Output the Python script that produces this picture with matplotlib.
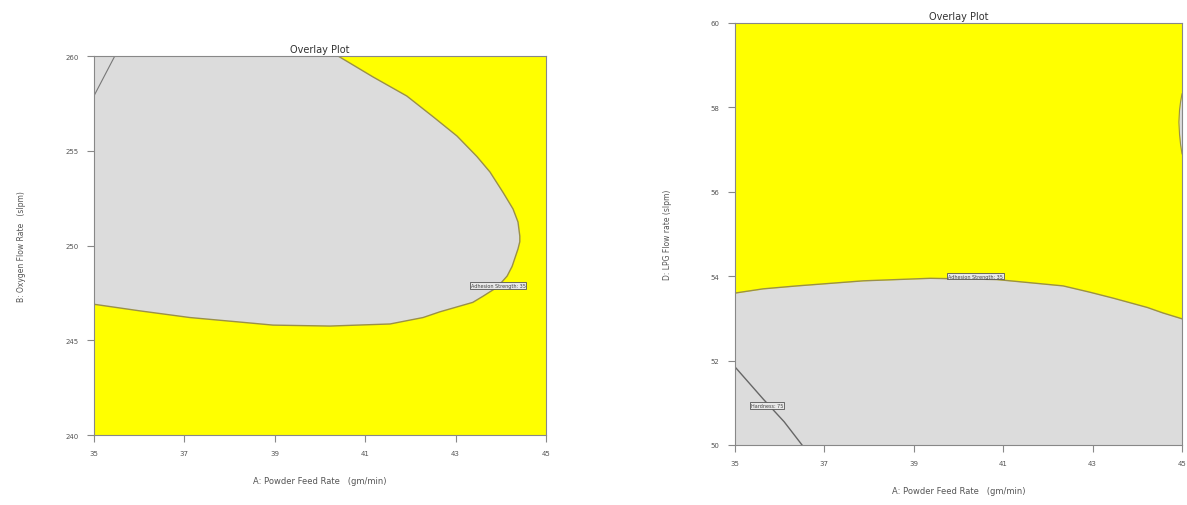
import numpy as np
import matplotlib
matplotlib.use('Agg')
import matplotlib.pyplot as plt

# left panel: A vs B, boundary of the grey region
left_x = [35.0, 36.02, 37.12, 38.23, 38.96, 40.22, 41.55, 42.28, 42.65, 43.38, 43.61,
          43.92, 44.14, 44.25, 44.38, 44.42, 44.42, 44.38, 44.27, 44.05, 43.76,
          43.47, 43.03, 42.5, 41.92, 41.17, 40.40]
left_y = [246.9, 246.55, 246.2, 245.96, 245.8, 245.75, 245.86, 246.2, 246.5, 247.0, 247.33,
          247.8, 248.39, 248.9, 249.82, 250.2, 250.5, 251.24, 251.93, 252.8, 253.88,
          254.7, 255.78, 256.8, 257.89, 258.9, 260.0]
left_corner_x = [35.0, 35.46]
left_corner_y = [257.9, 260.0]

# right panel: A vs D
right_x = [35.0, 35.63, 36.39, 37.87, 39.37, 40.86, 42.34, 42.94, 43.46, 44.22, 44.57, 45.0]
right_y = [53.6, 53.70, 53.77, 53.89, 53.95, 53.92, 53.77, 53.62, 53.48, 53.26, 53.13, 52.99]
bulge_y = [58.32, 58.15, 57.95, 57.65, 57.35, 57.1, 56.9]
bulge_x = [45.0, 44.97, 44.945, 44.93, 44.945, 44.97, 45.0]
hard_x = [35.0, 35.63, 36.1, 36.5]
hard_y = [51.85, 51.09, 50.55, 50.0]

x_ticks = [35, 37, 39, 41, 43, 45]
left_y_ticks = [240, 245, 250, 255, 260]
right_y_ticks = [50, 52, 54, 56, 58, 60]

YELLOW = '#ffff00'
GREY = '#dcdcdc'
EDGE = '#9a9048'
TXT = '#555555'

fig = plt.figure(figsize=(11.87, 5.06), dpi=100)
ax1 = fig.add_axes([0.0792, 0.1383, 0.3808, 0.749])
ax2 = fig.add_axes([0.6192, 0.1186, 0.3766, 0.834])


def style(ax, yticks, ylabel):
    ax.set_facecolor(YELLOW)
    ax.set_xlim(35, 45)
    ax.set_ylim(yticks[0], yticks[-1])
    ax.set_xticks(x_ticks)
    ax.set_yticks(yticks)
    ax.tick_params(direction='out', length=5, width=0.8, colors='#888888',
                   labelsize=5, labelcolor=TXT, pad=6)
    for s in ax.spines.values():
        s.set_color('#888888')
        s.set_linewidth(0.8)
    ax.set_title('Overlay Plot', fontsize=7, color='#333333', pad=3)
    ax.set_xlabel('A: Powder Feed Rate   (gm/min)', fontsize=6, color=TXT, labelpad=14)
    ax.set_ylabel(ylabel, fontsize=5.5, color=TXT, labelpad=28)


style(ax1, left_y_ticks, 'B: Oxygen Flow Rate   (slpm)')
style(ax2, right_y_ticks, 'D: LPG Flow rate (slpm)')

# left panel
ax1.fill(left_x + [35.0], left_y + [260.0], color=GREY, lw=0, zorder=1)
ax1.plot(left_x, left_y, color=EDGE, lw=1.0, zorder=2)
ax1.plot(left_corner_x, left_corner_y, color='#777777', lw=0.8, zorder=2)
ax1.text(43.94, 247.9, 'Adhesion Strength: 35', fontsize=3.5, color='#444444',
         ha='center', va='center', zorder=3,
         bbox=dict(boxstyle='square,pad=0.15', fc='#e8e8e8', ec='#555555', lw=0.6))

# right panel
ax2.fill_between(right_x, 50, right_y, color=GREY, lw=0, zorder=1)
ax2.plot(right_x, right_y, color=EDGE, lw=1.0, zorder=2)
ax2.fill_betweenx(bulge_y, bulge_x, 45, color=GREY, lw=0, zorder=1)
ax2.plot(bulge_x, bulge_y, color=EDGE, lw=0.8, zorder=2)
ax2.plot(hard_x, hard_y, color='#666666', lw=1.0, zorder=2)
ax2.text(40.38, 54.0, 'Adhesion Strength: 35', fontsize=3.5, color='#444444',
         ha='center', va='center', zorder=3,
         bbox=dict(boxstyle='square,pad=0.15', fc='#e8e8e8', ec='#555555', lw=0.6))
ax2.text(35.72, 50.94, 'Hardness: 75', fontsize=3.5, color='#444444',
         ha='center', va='center', zorder=3,
         bbox=dict(boxstyle='square,pad=0.15', fc='#e8e8e8', ec='#555555', lw=0.6))

fig.savefig('out.png', dpi=100)
